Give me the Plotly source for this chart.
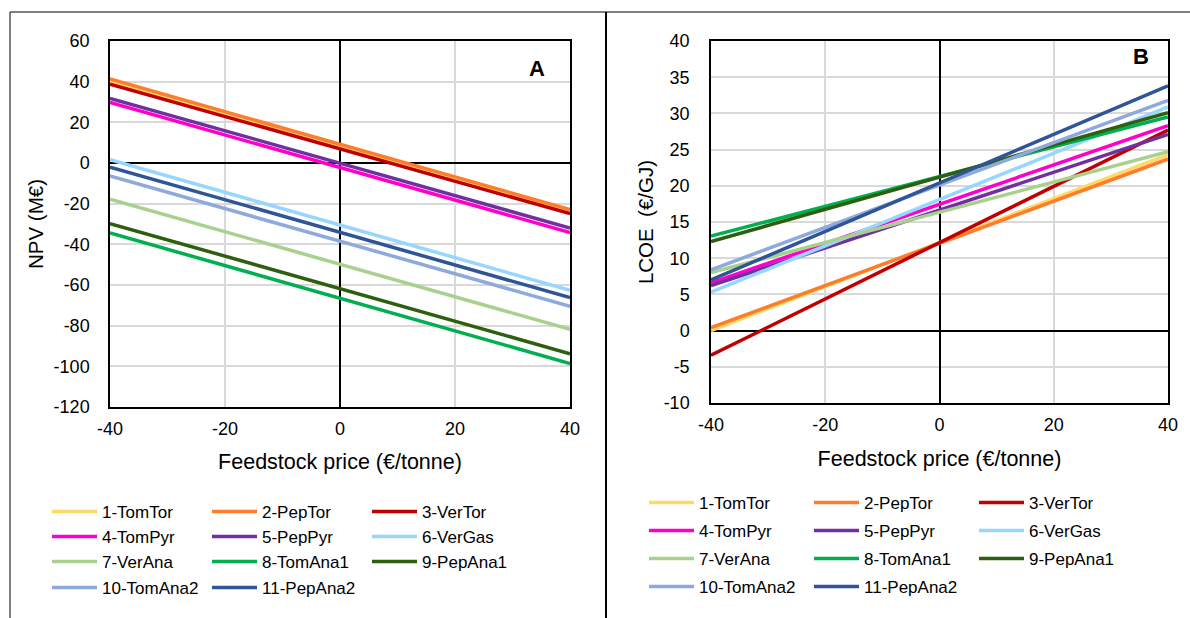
import plotly.graph_objects as go

# ---------------- data ----------------
names = ["1-TomTor", "2-PepTor", "3-VerTor", "4-TomPyr", "5-PepPyr", "6-VerGas",
         "7-VerAna", "8-TomAna1", "9-PepAna1", "10-TomAna2", "11-PepAna2"]
colors = ["#FFD966", "#FF7C2A", "#C00000", "#FF00CC", "#7030A0", "#96D6FF",
          "#A9D18E", "#00B050", "#2D5F0E", "#8EA9DB", "#2F5597"]
price = [-40, 40]
npv_start = [40.2, 41.3, 38.8, 29.8, 31.8, 1.6, -17.8, -34.4, -29.8, -6.4, -2.0]
npv_end = [-23.9, -22.9, -24.9, -34.2, -32.0, -62.6, -81.8, -98.6, -93.8, -70.5, -66.2]
lcoe_start = [0.0, 0.4, -3.4, 6.6, 6.2, 5.3, 8.0, 13.05, 12.3, 8.4, 7.0]
lcoe_end = [24.3, 23.7, 27.7, 28.3, 27.1, 30.9, 24.7, 29.5, 30.1, 31.8, 33.8]

x_tickvals = [-40, -20, 0, 20, 40]
x_ticktext = ["-40", "-20", "0", "20", "40"]
ya_tickvals = [60, 40, 20, 0, -20, -40, -60, -80, -100, -120]
ya_ticktext = ["60", "40", "20", "0", "-20", "-40", "-60", "-80", "-100", "-120"]
yb_tickvals = [40, 35, 30, 25, 20, 15, 10, 5, 0, -5, -10]
yb_ticktext = ["40", "35", "30", "25", "20", "15", "10", "5", "0", "-5", "-10"]

W, H = 1190, 618
FONT = "Liberation Sans, Arial, sans-serif"

fig = go.Figure()

legends_a = ["legend", "legend2", "legend3", "legend4"]
legends_b = ["legend5", "legend6", "legend7", "legend8"]

for i, n in enumerate(names):
    fig.add_trace(go.Scatter(x=price, y=[npv_start[i], npv_end[i]], mode="lines",
                             name=n, line=dict(color=colors[i], width=3.5),
                             xaxis="x", yaxis="y", legend=legends_a[i // 3]))
for i, n in enumerate(names):
    fig.add_trace(go.Scatter(x=price, y=[lcoe_start[i], lcoe_end[i]], mode="lines",
                             name=n, line=dict(color=colors[i], width=3.5),
                             xaxis="x2", yaxis="y2", legend=legends_b[i // 3]))


def px(x):
    return x / W


def py(y):
    return 1 - y / H


axis_common = dict(
    showgrid=True, gridcolor="#D9D9D9", gridwidth=1.5,
    zeroline=True, zerolinecolor="black", zerolinewidth=1.5,
    showline=True, linecolor="black", linewidth=1.5, mirror=True,
    ticks="outside", tickcolor="rgba(0,0,0,0)", automargin=False,
    tickfont=dict(size=18, color="black", family=FONT),
)
XTITLE_FONT = dict(size=21.5, color="black", family=FONT)
YTITLE_FONT = dict(size=20.5, color="black", family=FONT)

layout = dict(
    width=W, height=H, margin=dict(l=0, r=0, t=0, b=0, autoexpand=False),
    paper_bgcolor="white", plot_bgcolor="white",
    font=dict(family=FONT, color="black", size=17),
    xaxis=dict(domain=[px(110), px(570)], range=[-40, 40], tickvals=x_tickvals,
               ticktext=x_ticktext, ticklen=5, anchor="y",
               title=dict(text="Feedstock price (€/tonne)", font=XTITLE_FONT, standoff=16),
               **axis_common),
    yaxis=dict(domain=[py(407), py(41)], range=[-120, 60], tickvals=ya_tickvals,
               ticktext=ya_ticktext, ticklen=15, anchor="x",
               title=dict(text="NPV (M€)", font=YTITLE_FONT, standoff=4),
               **axis_common),
    xaxis2=dict(domain=[px(711), px(1168)], range=[-40, 40], tickvals=x_tickvals,
                ticktext=x_ticktext, ticklen=5, anchor="y2",
                title=dict(text="Feedstock price (€/tonne)", font=XTITLE_FONT, standoff=17),
                **axis_common),
    yaxis2=dict(domain=[py(403), py(41)], range=[-10, 40], tickvals=yb_tickvals,
                ticktext=yb_ticktext, ticklen=16, anchor="x2",
                title=dict(text="LCOE  (€/GJ)", font=YTITLE_FONT, standoff=4),
                **axis_common),
)

rows_a = [512, 537, 562, 588]
rows_b = [503, 531, 559, 587]
for k, lg in enumerate(legends_a):
    layout[lg] = dict(orientation="h", x=px(47), xanchor="left", y=py(rows_a[k]),
                      yanchor="middle", itemwidth=45, entrywidth=100,
                      entrywidthmode="pixels", font=dict(size=17, family=FONT),
                      bgcolor="rgba(0,0,0,0)", tracegroupgap=0)
for k, lg in enumerate(legends_b):
    layout[lg] = dict(orientation="h", x=px(644), xanchor="left", y=py(rows_b[k]),
                      yanchor="middle", itemwidth=45, entrywidth=105,
                      entrywidthmode="pixels", font=dict(size=17, family=FONT),
                      bgcolor="rgba(0,0,0,0)", tracegroupgap=0)

fig.update_layout(**layout)

# panel letters
fig.add_annotation(text="<b>A</b>", x=px(537), y=py(68), xref="paper", yref="paper",
                   xanchor="center", yanchor="middle",
                   showarrow=False, font=dict(size=22, color="black", family=FONT))
fig.add_annotation(text="<b>B</b>", x=px(1141), y=py(57), xref="paper", yref="paper",
                   xanchor="center", yanchor="middle",
                   showarrow=False, font=dict(size=22, color="black", family=FONT))

# outer frame lines
fig.add_shape(type="line", xref="paper", yref="paper", x0=px(10), x1=1, y0=py(12), y1=py(12),
              line=dict(color="black", width=1))
fig.add_shape(type="line", xref="paper", yref="paper", x0=px(10), x1=px(10), y0=0, y1=py(12),
              line=dict(color="black", width=1))
fig.add_shape(type="line", xref="paper", yref="paper", x0=px(606), x1=px(606), y0=0, y1=py(12),
              line=dict(color="black", width=2))

fig.write_html("out.html")
